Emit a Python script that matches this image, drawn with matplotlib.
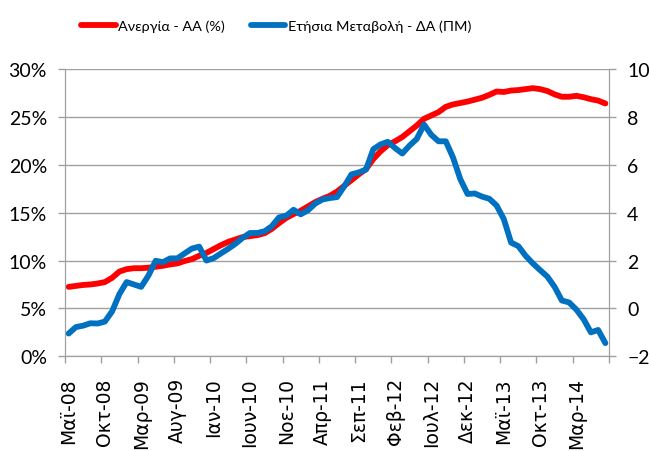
import numpy as np
import matplotlib
matplotlib.use("Agg")
import matplotlib.pyplot as plt

plt.rcParams['font.family'] = ['Lato', 'DejaVu Sans']

# monthly, May 2008 .. Jul 2014
unemployment = [7.25, 7.35, 7.45, 7.5, 7.6, 7.75, 8.2, 8.85, 9.1, 9.2,
                9.2, 9.25, 9.35, 9.45, 9.6, 9.7, 9.95, 10.15, 10.5, 10.8,
                11.2, 11.6, 11.95, 12.2, 12.45, 12.55, 12.65, 12.85, 13.3, 13.9,
                14.45, 14.85, 15.2, 15.65, 16.1, 16.45, 16.75, 17.2, 17.8, 18.4,
                19.0, 19.55, 20.6, 21.4, 22.05, 22.45, 22.9, 23.5, 24.1, 24.8,
                25.15, 25.5, 26.05, 26.3, 26.45, 26.6, 26.8, 27.0, 27.3, 27.65,
                27.6, 27.75, 27.8, 27.9, 28.0, 27.9, 27.7, 27.35, 27.1, 27.1,
                27.2, 27.05, 26.85, 26.7, 26.4]
annual_change = [-1.05, -0.78, -0.72, -0.62, -0.63, -0.55, -0.12, 0.6, 1.1, 1.0,
                 0.9, 1.37, 1.99, 1.93, 2.09, 2.09, 2.3, 2.5, 2.58, 2.0,
                 2.1, 2.3, 2.49, 2.7, 2.95, 3.15, 3.15, 3.22, 3.43, 3.8,
                 3.87, 4.12, 3.93, 4.1, 4.38, 4.55, 4.61, 4.65, 5.1, 5.6,
                 5.68, 5.8, 6.65, 6.85, 6.96, 6.7, 6.47, 6.8, 7.08, 7.68,
                 7.25, 6.98, 6.98, 6.3, 5.4, 4.78, 4.8, 4.67, 4.58, 4.3,
                 3.73, 2.75, 2.6, 2.2, 1.88, 1.6, 1.33, 0.9, 0.33, 0.25,
                 -0.05, -0.45, -1.0, -0.9, -1.45]
tick_labels = ['Μαϊ-08', 'Οκτ-08', 'Μαρ-09', 'Αυγ-09', 'Ιαν-10', 'Ιουν-10',
               'Νοε-10', 'Απρ-11', 'Σεπ-11', 'Φεβ-12', 'Ιουλ-12', 'Δεκ-12',
               'Μαϊ-13', 'Οκτ-13', 'Μαρ-14']

x = np.arange(len(unemployment))
grey = '#a0a0a0'

fig = plt.figure(figsize=(6.49, 4.52), dpi=100)
ax = fig.add_axes([65 / 649, 1 - 357.3 / 452, 544 / 649, 287.3 / 452])
ax2 = ax.twinx()

l1, = ax.plot(x, unemployment, color='#ff0000', lw=4.2, solid_capstyle='round',
              solid_joinstyle='round', label='Ανεργία - ΑΑ (%)')
l2, = ax2.plot(x, annual_change, color='#0070c0', lw=4.2, solid_capstyle='round',
               solid_joinstyle='round', label='Ετήσια Μεταβολή - ΔΑ (ΠΜ)')

# categories sit between tick marks, as in Excel
ax.set_xlim(-0.5, len(x) - 0.5)
ax.set_ylim(0, 30)
ax2.set_ylim(-2, 10)
ax.set_yticks(np.arange(0, 31, 5))
ax.set_yticklabels([f'{v}%' for v in range(0, 31, 5)])
ax2.set_yticks(np.arange(-2, 11, 2))
ax.set_xticks(np.arange(-0.5, len(x), 5))
ax.set_xticklabels([])
ax.set_xticks(np.arange(0, 71, 5), minor=True)
ax.set_xticklabels(tick_labels, minor=True, rotation=90, fontsize=13.5,
                   family='DejaVu Sans')
ax.tick_params(axis='x', which='minor', length=0, pad=15)

ax.grid(axis='y', color=grey, lw=1)
ax.set_axisbelow(True)
for a in (ax, ax2):
    for s in a.spines.values():
        s.set_color(grey)
    a.spines['top'].set_visible(False)
    a.tick_params(which='major', colors=grey, labelcolor='black', labelsize=14,
                  length=5, width=1, pad=8)

fig.legend(handles=[l1, l2], loc='center left', bbox_to_anchor=(74 / 649, 1 - 27 / 452),
           ncol=2, frameon=False, fontsize=10.4, handlelength=2.4, borderpad=0,
           handletextpad=0.15, columnspacing=1.8)

fig.savefig('out.png', dpi=100)
